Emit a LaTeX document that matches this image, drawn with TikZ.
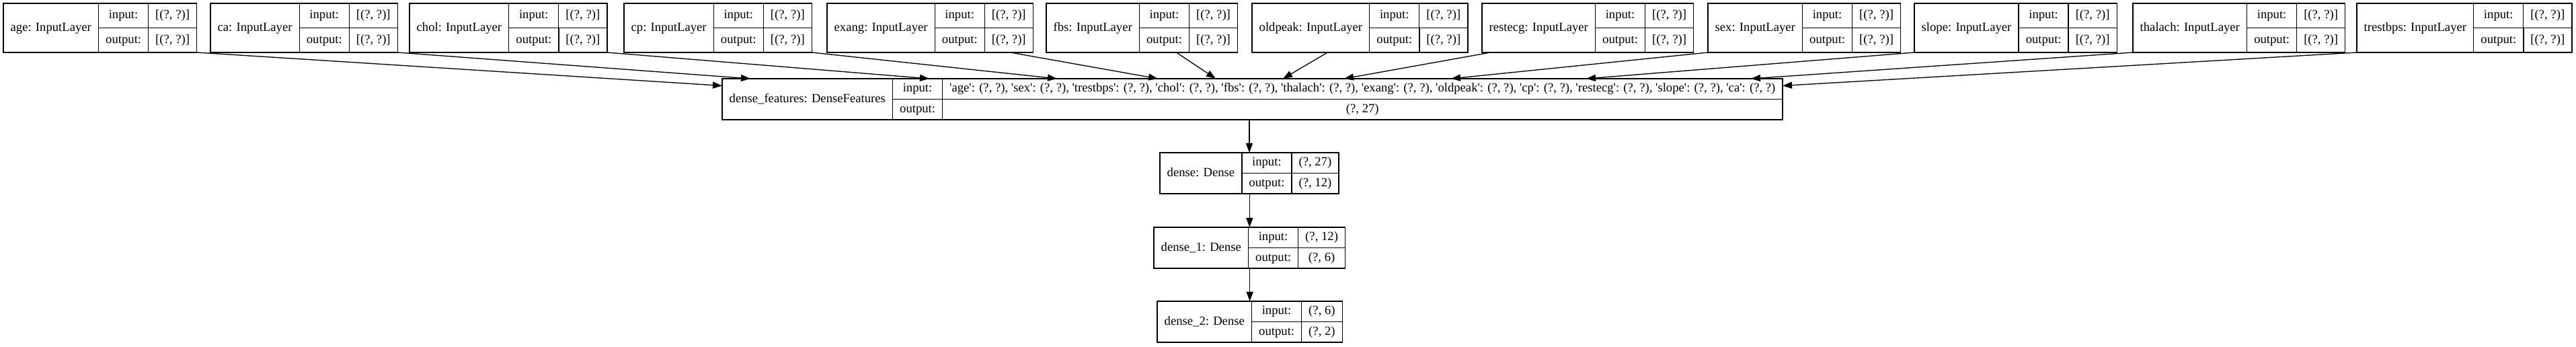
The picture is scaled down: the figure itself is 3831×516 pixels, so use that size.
\documentclass[tikz,border=0pt]{standalone}
\usepackage{fontspec}
\setmainfont{Liberation Serif}[Ligatures=TeXOff]
\usetikzlibrary{arrows.meta,calc,fit}

\tikzset{
  cell/.style={draw, line width=1pt, inner xsep=8pt, inner ysep=0pt, outer sep=0pt,
    text height=10pt, text depth=3pt, font=\fontsize{14}{16}\selectfont},
  toplbl/.style={cell, minimum height=54.75pt},
  topio/.style={cell, minimum height=27.375pt, minimum width=55.5pt},
  topval/.style={cell, minimum height=27.375pt},
  lbl/.style={cell, minimum height=45.75pt},
  io/.style={cell, minimum height=22.875pt, minimum width=55.5pt},
  val/.style={cell, minimum height=22.875pt},
  rec/.style={inner sep=0pt, outer sep=0pt},
  arr/.style={line width=1pt, -{Triangle[length=10.5pt,width=7.5pt]}}
}

\begin{document}
\begin{tikzpicture}[x=0.75pt, y=-0.75pt]
  \fill[white] (0,0) rectangle (3831,516);
  \useasboundingbox (0,0) rectangle (3831,516);

  % input layers
  \foreach \nm/\x in {age/5, ca/313, chol/609, cp/928, exang/1230, fbs/1556,
      oldpeak/1862, restecg/2204, sex/2540, slope/2847, thalach/3172, trestbps/3505} {
    \node[toplbl, anchor=north west] (\nm-l) at (\x,5) {\nm: InputLayer};
    \node[topio, anchor=north west] (\nm-i) at (\nm-l.north east) {input:};
    \node[topio, anchor=north west] (\nm-o) at (\nm-i.south west) {output:};
    \node[topval, anchor=north west] (\nm-iv) at (\nm-i.north east) {[(?, ?)]};
    \node[topval, anchor=north west] (\nm-ov) at (\nm-iv.south west) {[(?, ?)]};
    \node[rec, fit=(\nm-l)(\nm-ov)] (\nm) {};
  }

  % dense part
  \foreach \nm/\lab/\x/\y/\iv/\ov in {
      df/{dense\_features: DenseFeatures}/1074/117/{'age': (?, ?), 'sex': (?, ?), 'trestbps': (?, ?), 'chol': (?, ?), 'fbs': (?, ?), 'thalach': (?, ?), 'exang': (?, ?), 'oldpeak': (?, ?), 'cp': (?, ?), 'restecg': (?, ?), 'slope': (?, ?), 'ca': (?, ?)}/{(?, 27)},
      dense/{dense: Dense}/1725/227/{(?, 27)}/{(?, 12)},
      dense1/{dense\_1: Dense}/1716/338/{(?, 12)}/{(?, 6)},
      dense2/{dense\_2: Dense}/1721/448/{(?, 6)}/{(?, 2)}} {
    \node[lbl, anchor=north west] (\nm-l) at (\x,\y) {\lab};
    \node[io, anchor=north west] (\nm-i) at (\nm-l.north east) {input:};
    \node[io, anchor=north west] (\nm-o) at (\nm-i.south west) {output:};
    \node[val, anchor=north west] (\nm-iv) at (\nm-i.north east) {\iv};
    \path let \p1 = ($(\nm-iv.east)-(\nm-iv.west)$) in
      node[val, minimum width=\x1, anchor=north west] (\nm-ov) at (\nm-iv.south west) {\ov};
    \node[rec, fit=(\nm-l)(\nm-ov)] (\nm) {};
  }

  % edges
  \foreach \nm/\f/\e in {ca/1/42, chol/1/308, cp/1/498, exang/0.89/648, fbs/0.68/734,
      oldpeak/0.35/834, restecg/0.04/925, sex/0/1084, slope/0/1285, thalach/0/1530}
    \draw[arr] ($(\nm.south west)!\f!(\nm.south east)$) -- ($(df.north west)+(\e,0)$);
  \draw[arr] (age.south east) -- ($(df.west)+(0,-20)$);
  \draw[arr] (trestbps.south west) -- ($(df.east)+(0,-20)$);
  \draw[arr] (df.south -| dense.north) -- (dense.north);
  \draw[arr] (dense.south -| dense1.north) -- (dense1.north);
  \draw[arr] (dense1.south -| dense2.north) -- (dense2.north);
\end{tikzpicture}
\end{document}
